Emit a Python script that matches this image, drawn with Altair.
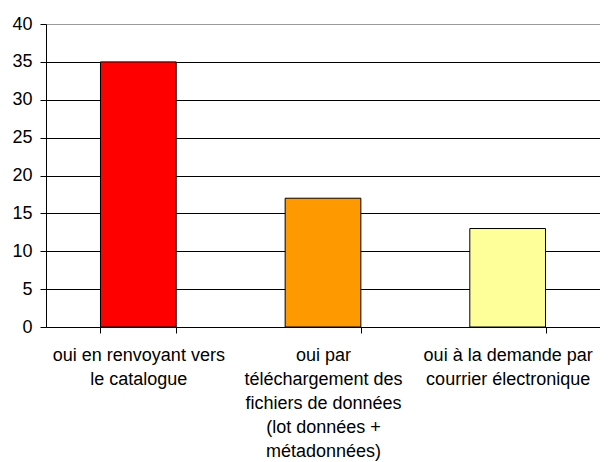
import altair as alt
import pandas as pd

categories = [
    "oui en renvoyant vers|le catalogue",
    "oui par|téléchargement des|fichiers de données|(lot données +|métadonnées)",
    "oui à la demande par|courrier électronique",
]
values = [35, 17, 13]
colors = ["#FF0000", "#FF9900", "#FFFF99"]
y_ticks = [0, 5, 10, 15, 20, 25, 30, 35, 40]

df = pd.DataFrame({"cat": categories, "val": values, "color": colors})

font = "Liberation Sans"

chart = alt.Chart(df).mark_bar(stroke="black", strokeWidth=1).encode(
    x=alt.X(
        "cat:N",
        sort=categories,
        title=None,
        scale=alt.Scale(paddingInner=0.59, paddingOuter=0.295),
        axis=alt.Axis(
            labelAngle=0,
            labelExpr="split(datum.label, '|')",
            labelFont=font,
            labelFontSize=18,
            labelColor="black",
            labelLineHeight=24,
            labelPadding=13,
            labelBaseline="top",
            labelLimit=300,
            tickBand="extent",
            tickSize=6,
            tickColor="black",
            domainColor="black",
            grid=False,
        ),
    ),
    y=alt.Y(
        "val:Q",
        title=None,
        scale=alt.Scale(domain=[0, 40], nice=False),
        axis=alt.Axis(
            values=y_ticks,
            labelFont=font,
            labelFontSize=18,
            labelColor="black",
            labelPadding=8,
            tickSize=6,
            tickColor="black",
            domainColor="black",
            grid=True,
            gridColor={"condition": {"test": "datum.value == 40", "value": "#999999"}, "value": "black"},
            gridOpacity=1,
        ),
    ),
    color=alt.Color("color:N", scale=None, legend=None),
).properties(
    width=554,
    height=303,
    autosize=alt.AutoSizeParams(type="none"),
    padding={"left": 38, "top": 16, "right": 0, "bottom": 135},
).configure_view(stroke=None).configure(background="white")

chart.save("out.html", embed_options={"renderer": "svg", "actions": False})
